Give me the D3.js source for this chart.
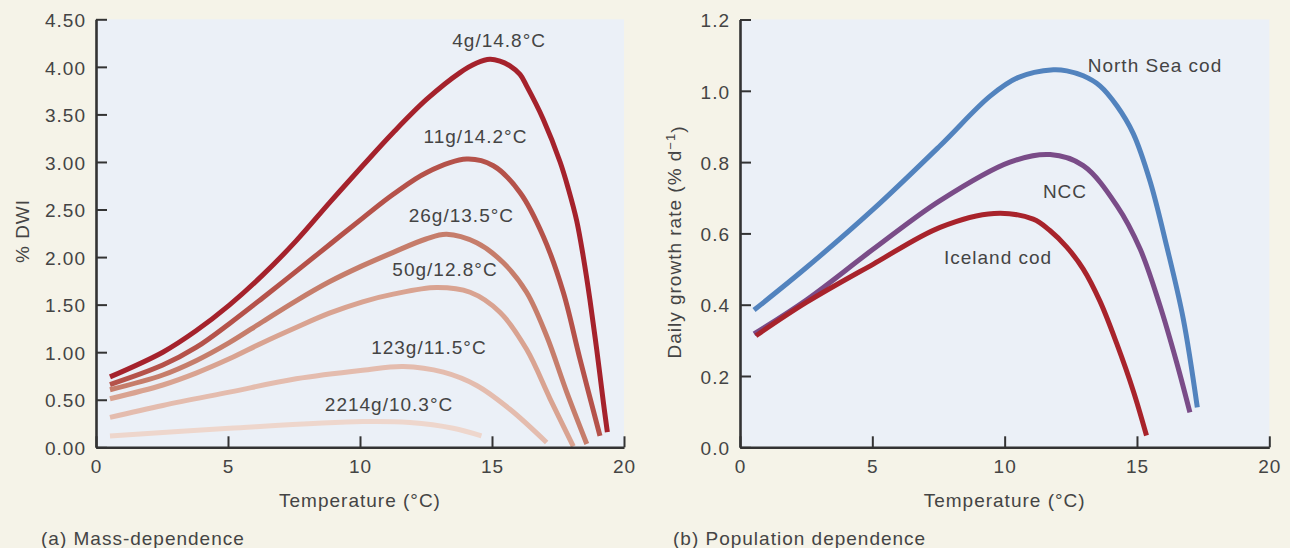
<!DOCTYPE html>
<html>
<head>
<meta charset="utf-8">
<script src="https://cdn.jsdelivr.net/npm/d3@7"></script>
<style>
  html, body { margin: 0; padding: 0; background: #F5F3E8; }
  svg { display: block; }
  text { font-family: "Liberation Sans", Arial, Helvetica, sans-serif; fill: #444; letter-spacing: 1px; }
</style>
</head>
<body>
<svg id="chart" width="1290" height="548"></svg>
<script>
// ---- Panel (a): mass-dependent growth, % DWI vs temperature ----
const massLabels = ["4g/14.8°C", "11g/14.2°C", "26g/13.5°C", "50g/12.8°C", "123g/11.5°C", "2214g/10.3°C"];
const massColors = ["#A5222C", "#B5524A", "#C67D6B", "#D9A391", "#E4BCAE", "#EED6CC"];

const temp4g   = [0.53, 2.53, 3.79, 5.05, 6.31, 7.58, 8.84, 10.1, 11.26, 12.53, 13.79, 14.42, 14.92, 15.3, 15.68, 16.06, 16.31, 16.94, 17.58, 17.89, 18.21, 18.46, 18.71, 18.97, 19.22, 19.37];
const dwi4g    = [0.74, 1.0, 1.225, 1.495, 1.81, 2.17, 2.57, 2.96, 3.31, 3.66, 3.94, 4.04, 4.08, 4.06, 4.01, 3.92, 3.80, 3.45, 3.0, 2.72, 2.38, 2.0, 1.55, 1.02, 0.47, 0.16];
const temp11g  = [0.53, 2.53, 3.79, 5.05, 6.31, 7.58, 8.84, 10.1, 11.26, 12.53, 14.04, 15.05, 16.06, 16.94, 17.7, 18.33, 19.09];
const dwi11g   = [0.66, 0.865, 1.05, 1.30, 1.57, 1.85, 2.13, 2.41, 2.66, 2.89, 3.03, 2.96, 2.68, 2.22, 1.63, 0.93, 0.12];
const temp26g  = [0.53, 2.53, 3.79, 5.05, 6.31, 7.58, 8.84, 10.1, 11.26, 12.5, 13.28, 14.42, 15.43, 16.31, 17.07, 17.83, 18.59];
const dwi26g   = [0.605, 0.76, 0.91, 1.1, 1.32, 1.54, 1.74, 1.91, 2.05, 2.19, 2.24, 2.15, 1.94, 1.63, 1.17, 0.58, 0.035];
const temp50g  = [0.53, 2.53, 3.79, 5.05, 6.31, 7.58, 8.84, 10.1, 11.26, 12.9, 14.17, 15.3, 16.31, 17.2, 18.08];
const dwi50g   = [0.51, 0.655, 0.78, 0.93, 1.1, 1.26, 1.41, 1.53, 1.61, 1.68, 1.63, 1.42, 1.03, 0.51, 0.01];
const temp123g = [0.53, 2.53, 5.05, 7.58, 10.1, 11.64, 13.16, 14.42, 15.68, 17.07];
const dwi123g  = [0.315, 0.44, 0.58, 0.72, 0.81, 0.85, 0.79, 0.65, 0.40, 0.05];
const temp2214g = [0.53, 5.05, 10.1, 11.89, 13.53, 14.6];
const dwi2214g  = [0.12, 0.20, 0.27, 0.26, 0.20, 0.12];

// label anchors (temperature, % DWI) for each mass curve
const massLabelT = [15.27, 14.375, 13.84, 13.22, 12.61, 11.1];
const massLabelV = [4.205, 3.196, 2.37, 1.80, 0.98, 0.385];

const massTemps = [temp4g, temp11g, temp26g, temp50g, temp123g, temp2214g];
const massVals  = [dwi4g, dwi11g, dwi26g, dwi50g, dwi123g, dwi2214g];

const dwiTicks = [0, 0.5, 1, 1.5, 2, 2.5, 3, 3.5, 4, 4.5];
const tempTicks = [0, 5, 10, 15, 20];

// ---- Panel (b): population-dependent daily growth rate ----
const popLabels = ["North Sea cod", "NCC", "Iceland cod"];
const popColors = ["#5283BE", "#7A4C88", "#A8232B"];

const tempNorthSea = [0.53, 2.52, 5.04, 7.56, 9.45, 10.5, 11.84, 12.35, 12.97, 13.6, 14.24, 14.86, 15.5, 16.12, 16.75, 17.28];
const rateNorthSea = [0.385, 0.505, 0.668, 0.846, 0.985, 1.037, 1.059, 1.056, 1.042, 1.014, 0.958, 0.88, 0.745, 0.565, 0.36, 0.112];
const tempNCC = [0.53, 2.52, 5.04, 7.56, 10.2, 11.72, 12.97, 14.24, 15.12, 15.87, 16.5, 17.0];
const rateNCC = [0.318, 0.414, 0.556, 0.692, 0.80, 0.821, 0.79, 0.678, 0.556, 0.397, 0.238, 0.098];
const tempIceland = [0.6, 2.52, 5.04, 7.56, 9.6, 11.08, 11.71, 12.34, 12.97, 13.6, 14.24, 14.87, 15.36];
const rateIceland = [0.313, 0.407, 0.514, 0.617, 0.656, 0.64, 0.608, 0.562, 0.50, 0.41, 0.29, 0.156, 0.033];

const popLabelT = [15.68, 12.28, 9.75];
const popLabelV = [1.052, 0.698, 0.514];

const popTemps = [tempNorthSea, tempNCC, tempIceland];
const popVals  = [rateNorthSea, rateNCC, rateIceland];

const rateTicks = [0, 0.2, 0.4, 0.6, 0.8, 1.0, 1.2];

const svg = d3.select("#chart");
const fontSize = 19;

function drawPanel(opts) {
  const { x, y, yTicks, yFmt, temps, vals, colors, labels, labelT, labelV, yTitle, caption, captionX, yTitleX, yTitleY } = opts;
  const g = svg.append("g");
  const [x0, x1] = x.range();
  const [y0, y1] = y.range();

  // plot area background
  g.append("rect")
    .attr("x", x0).attr("y", y1)
    .attr("width", x1 - x0).attr("height", y0 - y1)
    .attr("fill", "#EBF0F7");

  // curves: centripetal Catmull-Rom spline through the readings
  const line = d3.line()
    .x(d => x(d[0])).y(d => y(d[1]))
    .curve(d3.curveCatmullRom.alpha(0.5));
  temps.forEach((t, i) => {
    const pts = t.map((tv, j) => [tv, vals[i][j]]);
    g.append("path")
      .attr("d", line(pts))
      .attr("fill", "none")
      .attr("stroke", colors[i])
      .attr("stroke-width", 5)
      .attr("stroke-linecap", "butt")
      .attr("stroke-linejoin", "round");
  });

  // curve labels
  labels.forEach((lab, i) => {
    g.append("text")
      .attr("x", x(labelT[i])).attr("y", y(labelV[i]))
      .attr("text-anchor", "middle")
      .attr("font-size", fontSize)
      .text(lab);
  });

  // axes with inward ticks
  const yAxis = d3.axisLeft(y).tickValues(yTicks).tickFormat(d3.format(yFmt))
    .tickSizeInner(-11).tickSizeOuter(0).tickPadding(10);
  const xAxis = d3.axisBottom(x).tickValues(tempTicks).tickFormat(d3.format("d"))
    .tickSizeInner(-11).tickSizeOuter(0).tickPadding(12);

  const ya = g.append("g").attr("transform", `translate(${x0},0)`).call(yAxis);
  const xa = g.append("g").attr("transform", `translate(0,${y0})`).call(xAxis);
  [ya, xa].forEach(a => {
    a.select(".domain").attr("stroke", "#333").attr("stroke-width", 2.6);
    a.selectAll(".tick line").attr("stroke", "#333").attr("stroke-width", 2);
    a.selectAll(".tick text")
      .attr("font-family", null).attr("font-size", fontSize)
      .style("fill", "#444");
  });
  ya.selectAll(".tick text").attr("dy", "0.38em");

  // x-axis title
  g.append("text")
    .attr("x", (x0 + x1) / 2).attr("y", 507)
    .attr("text-anchor", "middle").attr("font-size", fontSize)
    .text("Temperature (°C)");

  // y-axis title
  const yt = g.append("text")
    .attr("transform", `translate(${yTitleX},${yTitleY}) rotate(-90)`)
    .attr("text-anchor", "middle").attr("font-size", fontSize);
  yTitle(yt);

  // panel caption
  g.append("text")
    .attr("x", captionX).attr("y", 545)
    .attr("font-size", fontSize)
    .text(caption);
}

drawPanel({
  x: d3.scaleLinear().domain([0, 20]).range([96, 624]),
  y: d3.scaleLinear().domain([0, 4.5]).range([447.3, 19.3]),
  yTicks: dwiTicks, yFmt: ".2f",
  temps: massTemps, vals: massVals, colors: massColors,
  labels: massLabels, labelT: massLabelT, labelV: massLabelV,
  yTitle: t => t.text("% DWI"),
  yTitleX: 29, yTitleY: 231,
  caption: "(a) Mass-dependence", captionX: 41
});

drawPanel({
  x: d3.scaleLinear().domain([0, 20]).range([740, 1269.3]),
  y: d3.scaleLinear().domain([0, 1.2]).range([447.3, 19.5]),
  yTicks: rateTicks, yFmt: ".1f",
  temps: popTemps, vals: popVals, colors: popColors,
  labels: popLabels, labelT: popLabelT, labelV: popLabelV,
  yTitle: t => {
    t.append("tspan").text("Daily growth rate (% d");
    t.append("tspan").attr("dy", "-0.45em").attr("font-size", 13).text("\u22121");
    t.append("tspan").attr("dy", "0.45em").text(")");
  },
  yTitleX: 681, yTitleY: 242,
  caption: "(b) Population dependence", captionX: 673
});
</script>
</body>
</html>
